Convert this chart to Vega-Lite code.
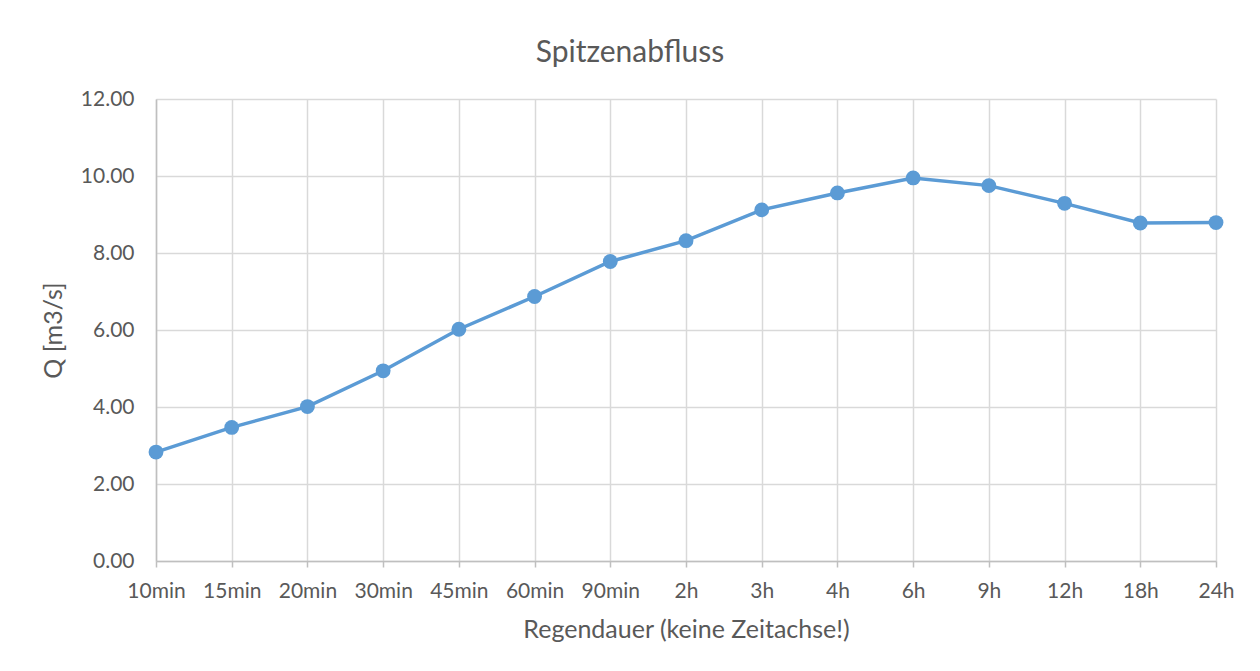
{
  "$schema": "https://vega.github.io/schema/vega-lite/v6.json",
  "width": 1060,
  "height": 462,
  "autosize": "none",
  "padding": {"left": 156, "top": 99, "right": 44, "bottom": 110},
  "background": "white",
  "title": {
    "text": "Spitzenabfluss",
    "font": "Lato",
    "fontSize": 30,
    "fontWeight": "normal",
    "color": "#595959",
    "anchor": "middle",
    "dx": -56,
    "offset": 20
  },
  "config": {
    "view": {"stroke": null},
    "font": "Lato"
  },
  "data": {
    "values": [
      {"dauer": "10min", "Q": 2.83},
      {"dauer": "15min", "Q": 3.47},
      {"dauer": "20min", "Q": 4.01},
      {"dauer": "30min", "Q": 4.94},
      {"dauer": "45min", "Q": 6.02},
      {"dauer": "60min", "Q": 6.87},
      {"dauer": "90min", "Q": 7.78},
      {"dauer": "2h", "Q": 8.32},
      {"dauer": "3h", "Q": 9.12},
      {"dauer": "4h", "Q": 9.56},
      {"dauer": "6h", "Q": 9.95},
      {"dauer": "9h", "Q": 9.75},
      {"dauer": "12h", "Q": 9.29},
      {"dauer": "18h", "Q": 8.78},
      {"dauer": "24h", "Q": 8.79}
    ]
  },
  "encoding": {
    "x": {
      "field": "dauer",
      "type": "ordinal",
      "sort": null,
      "scale": {"type": "point", "padding": 0},
      "axis": {
        "title": "Regendauer (keine Zeitachse!)",
        "titleFont": "Lato",
        "titleFontSize": 25,
        "titleFontWeight": "normal",
        "titleColor": "#595959",
        "titlePadding": 16,
        "labelAngle": 0,
        "labelFont": "Lato",
        "labelFontSize": 21,
        "labelColor": "#595959",
        "labelPadding": 13,
        "tickSize": 6,
        "tickColor": "#bfbfbf",
        "tickWidth": 1.5,
        "domainColor": "#bfbfbf",
        "domainWidth": 1.5,
        "grid": true,
        "gridColor": "#d9d9d9",
        "gridWidth": 1.5
      }
    },
    "y": {
      "field": "Q",
      "type": "quantitative",
      "scale": {"domain": [0, 12], "nice": false},
      "axis": {
        "title": "Q [m3/s]",
        "titleFont": "Lato",
        "titleFontSize": 25,
        "titleFontWeight": "normal",
        "titleColor": "#595959",
        "titlePadding": 14,
        "values": [0, 2, 4, 6, 8, 10, 12],
        "format": ".2f",
        "labelFont": "Lato",
        "labelFontSize": 21,
        "labelColor": "#595959",
        "labelPadding": 22,
        "ticks": false,
        "domain": true,
        "domainColor": "#bfbfbf",
        "domainWidth": 1.5,
        "grid": true,
        "gridColor": "#d9d9d9",
        "gridWidth": 1.5
      }
    }
  },
  "layer": [
    {"mark": {"type": "line", "color": "#5b9bd5", "strokeWidth": 3.5}},
    {"mark": {"type": "point", "filled": true, "color": "#5b9bd5", "size": 220, "opacity": 1}}
  ]
}
